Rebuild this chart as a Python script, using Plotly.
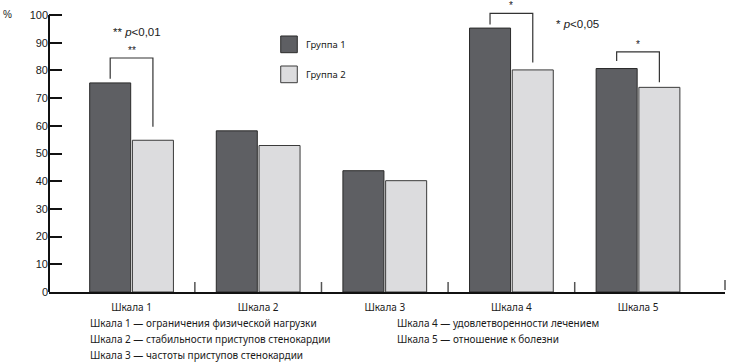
import plotly.graph_objects as go

# ---- data ----
categories = ["Шкала 1", "Шкала 2", "Шкала 3", "Шкала 4", "Шкала 5"]
group1 = [75.5, 58.2, 43.8, 95.3, 80.7]
group2 = [54.8, 52.9, 40.2, 80.2, 73.9]
series_names = ["Группа 1", "Группа 2"]
y_ticks = [0, 10, 20, 30, 40, 50, 60, 70, 80, 90, 100]

# significance brackets: category, mark, top level, left end, right end
sig_categories = ["Шкала 1", "Шкала 4", "Шкала 5"]
sig_marks = ["**", "*", "*"]
sig_top = [84.5, 100.6, 86.7]
sig_left_end = [77.0, 96.6, 83.4]
sig_right_end = [59.7, 82.9, 75.7]

footnotes_left = [
    "Шкала 1 — ограничения физической нагрузки",
    "Шкала 2 — стабильности приступов стенокардии",
    "Шкала 3 — частоты приступов стенокардии",
]
footnotes_right = [
    "Шкала 4 — удовлетворенности лечением",
    "Шкала 5 — отношение к болезни",
]

# ---- style ----
C1, C2 = "#5e5f63", "#dcdcde"
LINE = "#2a2a2a"
TXT = "#1a1a1a"
NUMFONT = "Liberation Sans"
TXTFONT = "Noto Sans"
BARGAP, GROUPGAP = 0.325, 0.04

fig = go.Figure()
fig.add_bar(x=categories, y=group1, name=series_names[0], marker=dict(color=C1, line=dict(color=LINE, width=1)), showlegend=False)
fig.add_bar(x=categories, y=group2, name=series_names[1], marker=dict(color=C2, line=dict(color="#3a3a3a", width=1)), showlegend=False)

shapes = []
annotations = []

# y axis line drawn up to 100 only
shapes.append(dict(type="line", xref="paper", yref="y", x0=0, x1=0, y0=0, y1=y_ticks[-1],
                   line=dict(color="#111", width=2)))

# category separator ticks
for i in range(len(categories) - 1):
    shapes.append(dict(type="line", xref="x", yref="y", x0=i + 0.5, x1=i + 0.5,
                       ysizemode="pixel", yanchor=0, y0=0, y1=10, line=dict(color="#555", width=1.5)))
shapes.append(dict(type="line", xref="paper", yref="y", x0=1, x1=1,
                   ysizemode="pixel", yanchor=0, y0=2, y1=12, line=dict(color="#555", width=1.5)))

# significance brackets
off = (1 - BARGAP) / 4
for cat, mark, top, le, re in zip(sig_categories, sig_marks, sig_top, sig_left_end, sig_right_end):
    i = categories.index(cat)
    xl, xr = i - off, i + off
    shapes.append(dict(type="path", xref="x", yref="y",
                       path=f"M {xl},{le} L {xl},{top} L {xr},{top} L {xr},{re}",
                       line=dict(color="#333", width=1.2)))
    annotations.append(dict(x=i, y=top, xref="x", yref="y", text=mark, showarrow=False,
                            xanchor="center", yanchor="bottom",
                            font=dict(family=NUMFONT, size=10, color=TXT)))

# p-value notes
annotations.append(dict(x=0.1309, y=0.9038, xref="paper", yref="paper", text="** <i>p</i><0,01",
                        showarrow=False, xanchor="center", yanchor="middle",
                        font=dict(family=NUMFONT, size=11.5, color=TXT)))
annotations.append(dict(x=0.7825, y=0.9316, xref="paper", yref="paper", text="* <i>p</i><0,05",
                        showarrow=False, xanchor="center", yanchor="middle",
                        font=dict(family=NUMFONT, size=11.5, color=TXT)))

# % label
annotations.append(dict(x=-0.062, y=0.965, xref="paper", yref="paper", text="%", showarrow=False,
                        xanchor="center", yanchor="middle", font=dict(family=NUMFONT, size=10, color=TXT)))

# custom legend
leg = [(0.8889, 0.8309, C1, LINE), (0.7847, 0.7267, C2, "#3a3a3a")]
for (yt, yb, col, lc), name in zip(leg, series_names):
    shapes.append(dict(type="rect", xref="paper", yref="paper", x0=0.3428, x1=0.3673, y0=yb, y1=yt,
                       fillcolor=col, line=dict(color=lc, width=1)))
    annotations.append(dict(x=0.3772, y=(yt + yb) / 2, xref="paper", yref="paper", text=name,
                            showarrow=False, xanchor="left", yanchor="middle",
                            font=dict(family=TXTFONT, size=9.5, color=TXT)))

# footnotes
for k, t in enumerate(footnotes_left):
    annotations.append(dict(x=0.0577, y=-0.1087 - k * 0.0553, xref="paper", yref="paper", text=t,
                            showarrow=False, xanchor="left", yanchor="middle",
                            font=dict(family=TXTFONT, size=10, color=TXT)))
for k, t in enumerate(footnotes_right):
    annotations.append(dict(x=0.5118, y=-0.1087 - k * 0.0553, xref="paper", yref="paper", text=t,
                            showarrow=False, xanchor="left", yanchor="middle",
                            font=dict(family=TXTFONT, size=10, color=TXT)))

fig.update_layout(
    width=730, height=362,
    margin=dict(l=49, r=5, t=4, b=70),
    paper_bgcolor="white", plot_bgcolor="white",
    barmode="group", bargap=BARGAP, bargroupgap=GROUPGAP,
    shapes=shapes, annotations=annotations,
    showlegend=False,
)
fig.update_xaxes(type="category", range=[-0.652, 4.687], showline=True, linecolor="#111", linewidth=2,
                 ticks="", showgrid=False, zeroline=False, ticklabelstandoff=5,
                 tickfont=dict(family=TXTFONT, size=10, color=TXT))
fig.update_yaxes(range=[0, 104], tickvals=y_ticks, ticks="inside", ticklen=13, tickwidth=2,
                 tickcolor="#111", showline=False, showgrid=False, zeroline=False,
                 tickfont=dict(family=NUMFONT, size=11, color=TXT))

fig.write_html("out.html", config={"displayModeBar": False},
               post_script="document.body.style.margin='0';document.body.style.overflow='hidden';")
